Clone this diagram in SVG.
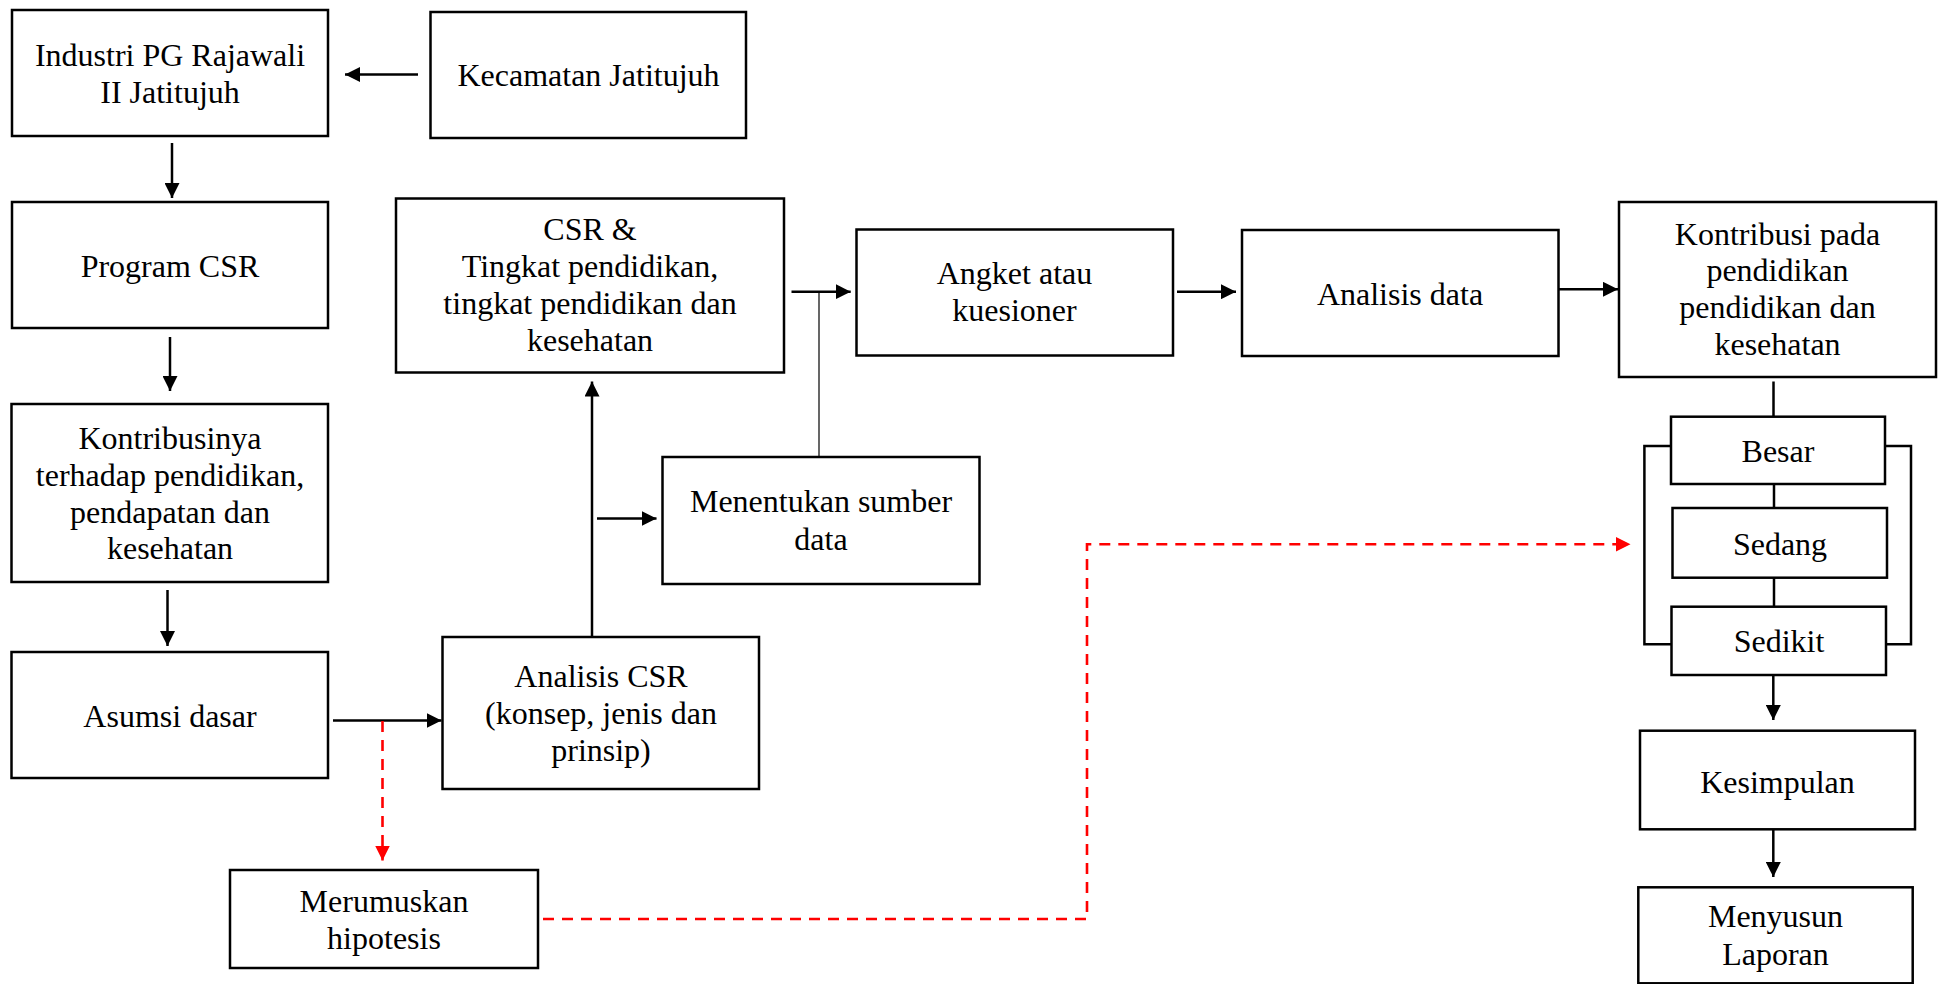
<svg xmlns="http://www.w3.org/2000/svg" width="1941" height="984" viewBox="0 0 1941 984">
<style>
.box{fill:#fff;stroke:#000;stroke-width:2.5}
.t{font-family:"Liberation Serif","Times New Roman",serif;font-size:32px;fill:#000;text-anchor:middle}
.c{fill:none;stroke:#000;stroke-width:2.5}
.thin{fill:none;stroke:#000;stroke-width:1.2}
.red{fill:none;stroke:#ff0000;stroke-width:2.6;stroke-dasharray:11 8}
</style>
<defs>
<marker id="ah" markerUnits="userSpaceOnUse" markerWidth="15" markerHeight="15" refX="15" refY="7.5" orient="auto"><path d="M0,0 L15,7.5 L0,15 z" fill="#000"/></marker>
<marker id="ahr" markerUnits="userSpaceOnUse" markerWidth="15" markerHeight="15" refX="15" refY="7.5" orient="auto"><path d="M0,0 L15,7.5 L0,15 z" fill="#ff0000"/></marker>
</defs>
<rect width="1941" height="984" fill="#fff"/>
<g id="connectors">
<path class="c" d="M418,74.5 L345,74.5" marker-end="url(#ah)"/>
<path class="c" d="M172,143 L172,198" marker-end="url(#ah)"/>
<path class="c" d="M170,337 L170,391" marker-end="url(#ah)"/>
<path class="c" d="M167.5,590 L167.5,646" marker-end="url(#ah)"/>
<path class="c" d="M333,720.5 L441.5,720.5" marker-end="url(#ah)"/>
<path class="red" d="M382.5,721 L382.5,860.5" marker-end="url(#ahr)"/>
<path class="red" d="M543,919 L1087,919 L1087,544.3 L1630.5,544.3" marker-end="url(#ahr)"/>
<path class="c" d="M592,637 L592,381.5" marker-end="url(#ah)"/>
<path class="c" d="M597,518.5 L656.5,518.5" marker-end="url(#ah)"/>
<path class="c" d="M791.5,291.7 L850.7,291.7" marker-end="url(#ah)"/>
<path class="thin" d="M819,291.7 L819,457"/>
<path class="c" d="M1177,291.7 L1236,291.7" marker-end="url(#ah)"/>
<path class="c" d="M1558.5,289.3 L1618,289.3" marker-end="url(#ah)"/>
<path class="c" d="M1773.5,381.5 L1773.5,416.7"/>
<path class="c" d="M1774,484 L1774,508"/>
<path class="c" d="M1774,577.7 L1774,606.7"/>
<path class="c" d="M1671,446 L1644.4,446 L1644.4,644.3 L1671.6,644.3"/>
<path class="c" d="M1885,446 L1911,446 L1911,644.3 L1886,644.3"/>
<path class="c" d="M1773.3,675 L1773.3,720" marker-end="url(#ah)"/>
<path class="c" d="M1773.3,829.3 L1773.3,877" marker-end="url(#ah)"/>
</g>
<g id="industri"><rect class="box" x="12" y="10" width="316" height="126"/><text class="t" x="170" y="65.5">Industri PG Rajawali</text><text class="t" x="170" y="103">II Jatitujuh</text></g>
<g id="kecamatan"><rect class="box" x="430.5" y="12" width="315.5" height="126"/><text class="t" x="588.5" y="86">Kecamatan Jatitujuh</text></g>
<g id="program"><rect class="box" x="12" y="202" width="316" height="126"/><text class="t" x="170" y="277">Program CSR</text></g>
<g id="kontribusinya"><rect class="box" x="11.5" y="404" width="316.5" height="178"/><text class="t" x="170" y="449">Kontribusinya</text><text class="t" x="170" y="486">terhadap pendidikan,</text><text class="t" x="170" y="522.5">pendapatan dan</text><text class="t" x="170" y="559">kesehatan</text></g>
<g id="asumsi"><rect class="box" x="11.5" y="652" width="316.5" height="126"/><text class="t" x="170" y="727">Asumsi dasar</text></g>
<g id="merumuskan"><rect class="box" x="230" y="870" width="308" height="98"/><text class="t" x="384" y="912">Merumuskan</text><text class="t" x="384" y="949">hipotesis</text></g>
<g id="analisis-csr"><rect class="box" x="442.5" y="637" width="316.5" height="152"/><text class="t" x="601" y="687">Analisis CSR</text><text class="t" x="601" y="724">(konsep, jenis dan</text><text class="t" x="601" y="761">prinsip)</text></g>
<g id="csr-tingkat"><rect class="box" x="396" y="198.5" width="388" height="174"/><text class="t" x="590" y="240">CSR &amp;</text><text class="t" x="590" y="277">Tingkat pendidikan,</text><text class="t" x="590" y="314">tingkat pendidikan dan</text><text class="t" x="590" y="351">kesehatan</text></g>
<g id="menentukan"><rect class="box" x="662.5" y="457" width="317" height="127"/><text class="t" x="821" y="512">Menentukan sumber</text><text class="t" x="821" y="550">data</text></g>
<g id="angket"><rect class="box" x="856.5" y="229.5" width="316.5" height="126"/><text class="t" x="1014.5" y="284">Angket atau</text><text class="t" x="1014.5" y="321">kuesioner</text></g>
<g id="analisis-data"><rect class="box" x="1242" y="230" width="316.5" height="126"/><text class="t" x="1400" y="305">Analisis data</text></g>
<g id="kontribusi-pada"><rect class="box" x="1619" y="202" width="317" height="175"/><text class="t" x="1777.5" y="245">Kontribusi pada</text><text class="t" x="1777.5" y="281">pendidikan</text><text class="t" x="1777.5" y="318">pendidikan dan</text><text class="t" x="1777.5" y="355">kesehatan</text></g>
<g id="besar"><rect class="box" x="1671" y="416.7" width="214" height="67.3"/><text class="t" x="1778" y="462">Besar</text></g>
<g id="sedang"><rect class="box" x="1672.5" y="508" width="214.5" height="69.7"/><text class="t" x="1780" y="555">Sedang</text></g>
<g id="sedikit"><rect class="box" x="1671.5" y="606.7" width="214.5" height="68.3"/><text class="t" x="1779" y="652">Sedikit</text></g>
<g id="kesimpulan"><rect class="box" x="1640" y="730.7" width="275" height="98.6"/><text class="t" x="1777.5" y="793">Kesimpulan</text></g>
<g id="menyusun"><rect class="box" x="1638.3" y="887.3" width="274.4" height="96"/><text class="t" x="1775.5" y="927">Menyusun</text><text class="t" x="1775.5" y="965">Laporan</text></g>
</svg>
